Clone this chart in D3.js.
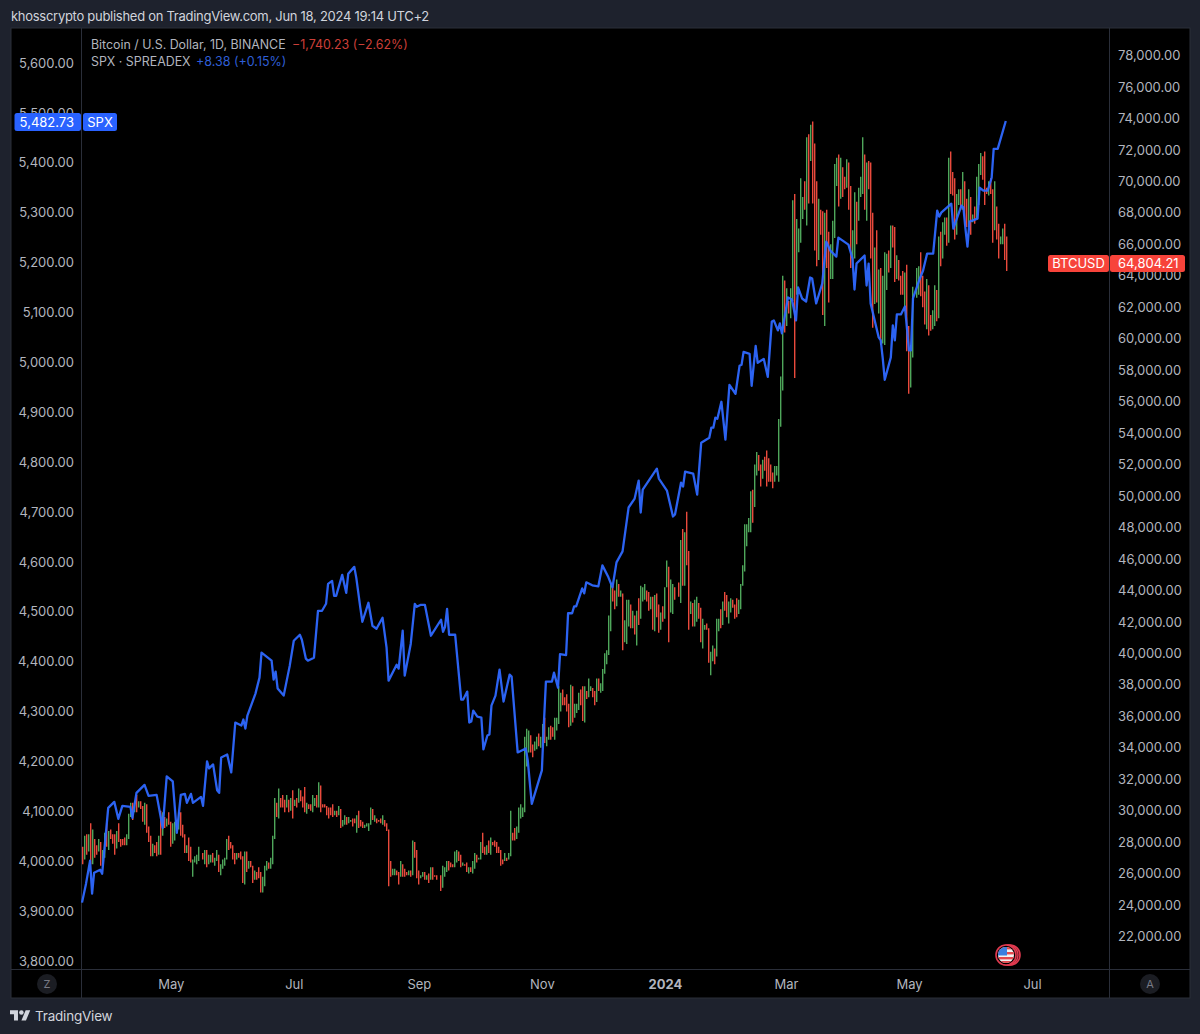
<!DOCTYPE html>
<html>
<head>
<meta charset="utf-8">
<script src="https://cdn.jsdelivr.net/npm/d3@7"></script>
<style>
  body { margin: 0; background: #1e222d; }
  svg { display: block; }
  text { font-family: Inter, Roboto, sans-serif; }
</style>
</head>
<body>
<svg id="chart" width="1200" height="1034"></svg>
<script>
// BTCUSD daily bars in thousands of dollars, one row per month, first bar is 18 Mar 2023
var btcStart = new Date(2023, 2, 18);
var btcHigh = [
  27.7,28.4,28.5,28.5,29.2,28.8,28.2,27.8,28.2,28.0,27.5,28.6,29.2,28.7,
  28.8,28.5,28.5,28.7,29.2,28.2,28.2,28.3,28.5,29.8,30.5,30.5,30.6,31.0,30.6,30.6,30.3,30.5,30.4,29.0,28.4,27.9,27.8,28.0,28.4,30.0,29.9,29.6,29.5,29.9,
  29.3,29.2,29.3,29.4,29.9,29.9,29.1,28.5,27.8,28.3,27.7,26.9,27.1,27.2,27.7,27.3,27.5,27.5,27.2,27.2,27.3,27.0,27.5,27.2,26.6,26.9,27.0,28.2,28.4,28.0,27.8,
  27.3,27.3,27.3,27.4,27.1,27.4,27.4,26.8,26.8,26.5,26.2,26.1,26.4,26.1,25.8,26.5,26.8,26.7,27.0,28.4,30.8,30.5,31.4,30.8,31.0,30.7,31.0,30.7,30.8,31.3,
  30.7,30.8,31.4,31.3,30.9,31.5,30.5,30.4,30.4,31.0,30.8,31.0,31.8,31.6,30.4,30.4,30.3,30.2,30.2,30.4,30.0,30.0,30.3,30.1,29.4,29.7,29.6,29.6,29.4,29.5,29.5,
  29.7,30.0,29.4,29.3,29.1,29.2,29.2,30.2,30.1,29.7,29.5,29.4,29.5,29.7,29.4,29.2,28.8,26.8,26.3,26.3,26.2,26.1,26.8,26.6,26.3,26.1,26.2,26.2,28.1,28.0,27.5,
  26.2,25.9,26.1,26.1,25.9,26.0,26.4,26.4,25.9,25.9,25.9,26.5,26.4,26.8,26.8,26.7,26.6,27.4,27.5,27.4,27.2,26.7,26.6,26.7,26.4,26.4,26.8,27.3,27.2,27.0,
  28.0,28.6,27.7,27.8,28.1,28.3,28.0,28.1,28.0,27.7,27.5,26.9,27.3,27.0,27.3,30.0,28.6,28.9,29.0,30.2,30.4,30.2,34.7,35.2,35.1,34.8,34.2,34.4,34.7,34.9,34.7,
  35.5,35.9,34.7,35.3,35.4,35.3,35.9,35.9,37.9,37.5,37.7,37.2,37.4,36.8,38.0,37.9,36.8,36.8,37.5,37.7,37.9,37.9,37.6,38.4,37.9,37.8,37.6,38.4,38.4,38.1,
  39.0,40.0,40.2,42.4,44.5,44.3,44.0,44.7,44.4,44.0,43.8,42.1,43.4,43.4,43.1,42.7,42.4,42.7,43.5,44.3,44.2,44.4,44.0,43.9,43.6,43.6,43.7,43.8,43.1,42.6,43.0,
  44.2,45.9,45.5,44.7,44.4,44.2,44.5,47.2,47.9,47.7,49.0,46.5,43.3,43.2,43.4,43.6,43.2,42.9,42.2,41.8,41.9,41.6,40.1,40.5,40.3,42.2,42.2,42.8,43.3,43.9,43.7,
  43.3,43.5,43.4,43.1,43.5,43.4,44.4,45.6,48.2,48.2,48.6,50.3,50.4,52.0,52.8,52.6,52.0,52.3,52.5,52.9,52.4,52.0,51.5,51.9,51.9,54.9,57.6,64.0,63.7,
  63.2,62.4,63.2,68.8,69.2,67.6,67.0,70.2,69.0,70.0,72.8,73.0,73.6,73.8,72.4,70.0,68.9,68.2,68.1,68.0,68.2,66.8,66.0,67.5,71.1,71.5,71.7,71.5,70.9,70.3,71.4,
  71.2,69.7,66.9,69.3,68.7,69.6,70.3,72.8,71.7,71.2,71.3,71.2,68.0,65.8,66.9,64.4,64.5,64.0,65.5,65.4,65.6,67.2,67.2,67.1,65.3,65.0,64.0,64.3,64.2,64.7,
  60.8,59.6,63.3,64.5,64.6,65.5,64.0,63.0,63.8,63.4,61.5,61.8,63.4,63.1,66.5,66.8,67.4,67.7,67.7,71.5,71.9,70.6,70.2,69.2,69.5,69.5,70.6,70.0,68.9,69.5,69.0,
  67.9,68.4,70.3,71.1,71.8,71.6,71.9,69.6,70.0,70.2,69.5,70.0,68.4,67.3,66.5,67.0,67.3,66.5
];
var btcLow = [
  26.6,26.9,27.2,27.4,26.6,26.6,27.0,27.2,27.4,26.5,26.6,27.0,27.7,27.5,
  28.2,27.9,27.2,27.6,28.0,27.7,27.8,27.8,27.8,28.2,29.6,29.4,29.9,29.9,30.2,30.1,29.3,29.1,28.6,28.0,27.1,27.1,27.3,27.1,27.2,27.2,28.4,28.9,29.0,29.1,
  27.7,27.9,28.1,28.7,28.8,28.4,28.3,27.3,27.3,26.8,26.7,25.8,26.7,26.6,26.8,26.9,26.6,26.4,26.6,26.7,26.7,26.5,26.8,26.1,25.9,26.3,26.5,26.9,27.5,27.6,26.9,
  26.6,26.9,27.0,26.9,25.4,25.3,26.1,26.3,26.4,25.4,25.6,25.6,25.7,24.8,24.8,25.2,26.2,26.3,26.3,26.6,28.2,29.6,29.5,30.2,30.2,29.9,30.2,29.9,30.0,29.5,
  30.3,30.2,30.5,30.6,30.2,29.9,29.8,30.1,30.0,29.9,30.3,30.2,30.2,29.9,30.2,30.2,29.7,29.5,29.7,29.6,29.7,29.6,29.7,28.9,29.0,29.1,29.1,29.2,29.3,29.0,29.2,
  28.6,28.9,29.0,28.9,28.9,29.0,28.7,29.1,29.4,29.3,29.2,29.3,29.2,29.1,29.0,28.7,25.2,25.8,25.9,25.9,25.9,25.3,25.8,25.8,25.8,25.9,25.9,25.8,25.9,27.0,25.7,
  25.3,25.7,25.8,25.6,25.6,25.4,25.6,25.6,25.8,25.6,24.9,25.1,25.8,26.1,26.2,26.4,26.4,26.4,26.7,26.8,26.4,26.5,26.5,26.1,26.0,26.1,26.0,26.3,26.7,26.9,
  26.9,27.3,27.2,27.2,27.3,27.2,27.8,27.7,27.3,27.3,26.5,26.6,26.8,26.8,26.9,27.1,28.1,28.1,28.2,28.6,29.5,29.6,29.9,32.8,33.7,33.7,33.4,33.8,33.9,34.1,34.0,
  34.1,34.3,34.1,34.5,34.5,34.7,34.5,35.1,35.5,36.3,36.7,36.7,36.3,35.3,35.4,35.6,35.9,36.2,36.4,36.7,35.7,35.6,37.1,37.2,37.6,37.2,36.7,36.9,37.6,37.5,
  37.6,38.7,39.3,39.9,41.4,43.3,42.8,43.0,43.6,43.6,40.2,40.7,40.6,41.7,41.6,41.6,41.2,40.5,41.8,42.2,43.3,43.4,43.3,42.7,42.8,41.5,41.4,42.3,41.3,41.5,42.0,
  42.2,44.2,40.7,42.6,42.5,43.4,43.6,43.2,44.3,44.3,45.6,41.5,42.5,41.7,41.7,42.0,42.2,40.7,40.3,41.5,41.5,39.4,38.6,39.5,39.3,39.8,41.4,41.6,41.8,42.7,42.3,
  41.9,42.6,42.9,42.2,42.3,42.5,42.8,44.3,45.2,46.8,47.7,47.7,48.3,49.3,51.3,51.6,50.6,51.1,51.6,50.6,50.9,50.9,50.5,50.9,51.3,50.9,54.4,56.7,60.4,
  60.8,61.6,61.3,62.4,57.5,62.8,65.5,66.1,67.6,68.2,67.2,68.6,71.3,68.6,65.6,64.6,65.0,66.6,61.5,60.8,64.5,62.3,63.8,63.8,66.4,69.7,68.4,68.9,69.0,69.5,69.6,
  68.2,64.5,64.5,65.1,66.0,67.5,69.0,69.2,68.2,67.5,69.5,65.1,60.7,62.2,62.3,61.6,59.6,59.7,59.6,63.1,64.2,64.5,65.8,63.6,63.8,63.7,62.8,62.8,61.8,59.2,
  56.5,56.9,58.8,62.6,62.8,62.7,62.0,60.9,60.6,60.2,60.5,60.6,60.8,61.1,61.3,64.6,65.1,66.6,65.9,66.1,69.2,69.1,66.3,66.6,68.5,68.2,68.2,67.2,67.1,67.1,66.6,
  67.4,67.3,67.6,68.5,70.4,70.1,68.5,69.2,69.1,69.2,66.1,66.9,66.3,65.1,66.0,66.0,65.0,64.3
];
// 1 when the bar closed above its open
var btcUp = [
  0,1,0,1,0,1,0,0,1,0,1,1,0,1,
  0,0,0,1,0,0,0,0,1,1,1,0,1,0,1,0,0,1,0,0,0,1,0,0,1,0,1,0,1,0,
  0,1,1,0,1,0,0,0,1,0,0,1,1,1,1,0,1,0,1,1,0,1,1,0,1,1,1,1,0,0,0,
  0,1,0,0,0,1,0,1,0,0,1,0,0,0,1,1,1,0,1,1,1,0,1,0,0,0,1,0,1,0,
  1,0,1,0,0,0,1,0,0,1,1,0,1,0,0,0,0,0,0,0,1,0,1,0,1,1,0,1,1,0,0,
  1,0,0,0,1,1,1,1,0,1,0,0,0,1,0,0,0,0,1,1,0,0,1,0,0,0,1,0,1,0,0,
  0,1,1,0,1,0,1,0,0,0,0,1,1,1,0,0,0,1,1,0,0,1,0,0,1,0,1,1,0,1,
  1,0,0,1,0,1,0,0,0,0,0,0,1,0,1,1,0,0,1,1,1,1,1,1,1,0,0,1,1,0,1,
  1,0,1,1,0,0,1,1,1,1,0,0,0,0,1,0,1,1,1,0,0,1,0,1,1,0,0,1,0,1,
  1,1,1,1,1,0,0,1,0,1,0,1,1,1,0,1,0,1,0,1,1,1,0,0,1,0,1,0,0,1,0,
  1,1,0,1,1,0,0,1,0,1,0,0,1,0,1,1,0,0,1,1,0,0,1,1,0,1,1,0,1,0,0,
  1,1,0,0,0,1,1,1,1,1,1,1,0,1,1,0,0,1,0,0,0,0,0,1,1,1,1,1,0,
  1,0,1,1,0,1,1,1,1,0,1,0,1,0,0,0,1,0,0,1,0,0,1,1,1,1,0,1,0,0,1,
  0,0,1,1,0,1,1,1,0,1,0,0,0,1,0,1,0,1,1,1,0,1,0,0,1,0,0,0,1,0,
  0,1,1,1,1,0,0,0,1,0,0,1,1,0,1,0,1,1,0,1,0,0,0,1,1,0,1,0,0,1,0,
  1,0,1,1,1,0,0,0,1,0,0,1,0,0,1,1,0,0
];

// SPX closes, spxDay counts days from btcStart
var spxDay = [
  0,2,4,5,6,9,10,13,16,18,20,24,25,27,31,33,37,40,42,45,47,49,51,52,54,55,59,60,62,63,65,67,68,69,72,74,
  76,79,80,81,82,86,88,89,94,95,96,97,100,102,103,105,108,109,111,112,115,117,119,121,122,124,125,126,129,131,132,135,136,138,139,142,144,146,149,151,152,156,157,
  159,160,163,165,166,168,170,173,178,179,180,181,182,185,188,189,191,192,193,194,196,198,199,201,202,203,205,207,209,212,213,216,220,221,223,228,229,230,233,234,236,237,240,241,243,244,245,248,249,250,253,256,258,261,263,265,268,271,274,276,277,278,285,286,290,293,294,297,298,299,303,305,
  307,311,312,313,314,315,317,319,321,324,326,327,328,331,332,334,335,338,340,342,343,345,346,347,350,352,354,355,357,359,361,362,364,367,369,371,374,375,380,382,383,384,388,389,390,391,395,396,397,398,401,402,403,404,406,408,410,411,412,415,417,419,422,424,425,426,431,432,436,437,438,439,440,444,445,447,449,451,452,454,458
];
var spxClose = [
  3916,3954,4000,3934,3976,3982,3974,4106,4118,4084,4110,4108,4086,4136,4152,4130,4132,4066,4169,4159,4056,4132,4134,4116,4134,4116,4128,4110,4199,4185,4193,4141,4136,4207,4213,4177,
  4277,4271,4283,4265,4291,4335,4367,4417,4401,4363,4379,4345,4331,4371,4391,4441,4453,4443,4405,4401,4407,4501,4501,4515,4555,4561,4531,4531,4573,4537,4575,4589,4567,4507,4479,4517,4471,4465,4487,4427,4361,4393,4385,
  4461,4371,4435,4515,4509,4513,4513,4451,4483,4459,4469,4505,4453,4453,4323,4323,4339,4277,4279,4301,4289,4287,4223,4251,4253,4311,4331,4383,4319,4373,4369,4217,4225,4201,4114,4181,4275,4359,4359,4377,4347,4414,4412,4496,4496,4510,4510,4546,4536,4558,4552,4550,4592,4568,4548,4598,4620,4708,4726,4762,4698,4744,4786,4766,4742,4690,4694,4758,4750,4780,4776,4734,
  4838,4848,4868,4868,4888,4886,4920,4844,4954,4936,4992,4994,5020,5016,4952,5032,4998,5006,4970,5081,5083,5063,5077,5057,5129,5125,5083,5149,5127,5121,5169,5167,5117,5157,5241,5223,5211,5249,5235,5207,5145,5197,5213,5153,5197,5117,5049,5043,5007,4964,5009,5073,5043,5095,5095,5111,5023,5023,5127,5163,5183,5217,5217,5303,5291,5299,5317,5267,5313,5309,5267,5231,5281,5287,5349,5343,5343,5369,5427,5427,5482.73
];

var spxTicks = [3800,3900,4000,4100,4200,4300,4400,4500,4600,4700,4800,4900,5000,5100,5200,5300,5400,5500,5600];
var btcTicks = [22000,24000,26000,28000,30000,32000,34000,36000,38000,40000,42000,44000,46000,48000,50000,52000,54000,56000,58000,60000,62000,64000,66000,68000,70000,72000,74000,76000,78000];
var timeTicks = [new Date(2023,4,1), new Date(2023,6,1), new Date(2023,8,1), new Date(2023,10,1), new Date(2024,0,1), new Date(2024,2,1), new Date(2024,4,1), new Date(2024,6,1)];
var timeLabels = ["May","Jul","Sep","Nov","2024","Mar","May","Jul"];

var sep = "#2a2e39", axisText = "#b2b5be";
var upColor = "#4ea65a", downColor = "#ea4a3c", spxColor = "#2e68ff";

var svg = d3.select("#chart");
var x = d3.scaleTime().domain([btcStart, new Date(2024,6,1)]).range([82, 1032]);
var ySpx = d3.scaleLinear().domain([3800,5600]).range([960.5,62.5]);
var yBtc = d3.scaleLinear().domain([22000,78000]).range([936.5,55.5]);

// panel and separators
svg.append("rect").attr("x",11).attr("y",28).attr("width",1179).attr("height",970).attr("fill","#000")
  .attr("stroke",sep).attr("stroke-width",1);
svg.append("line").attr("x1",81.5).attr("x2",81.5).attr("y1",28).attr("y2",998).attr("stroke",sep);
svg.append("line").attr("x1",1109.5).attr("x2",1109.5).attr("y1",28).attr("y2",998).attr("stroke",sep);
svg.append("line").attr("x1",11).attr("x2",1190).attr("y1",969.5).attr("y2",969.5).attr("stroke",sep);

svg.append("text").attr("x",11).attr("y",21).attr("fill","#d1d4dc").attr("font-size",13)
  .attr("letter-spacing",-0.28)
  .text("khosscrypto published on TradingView.com, Jun 18, 2024 19:14 UTC+2");

// axes
function styleAxis(g) {
  g.select(".domain").remove();
  g.selectAll(".tick line").remove();
  g.selectAll("text").attr("fill",axisText).attr("font-size",13).style("font-family","Inter, Roboto, sans-serif");
}
svg.append("g").attr("transform","translate(81,0.5)")
  .call(d3.axisLeft(ySpx).tickValues(spxTicks).tickSize(0).tickPadding(7).tickFormat(d3.format(",.2f")))
  .call(styleAxis);
svg.append("g").attr("transform","translate(1109,0)")
  .call(d3.axisRight(yBtc).tickValues(btcTicks).tickSize(0).tickPadding(9).tickFormat(d3.format(",.2f")))
  .call(styleAxis);
svg.append("g").attr("transform","translate(0,971)")
  .call(d3.axisBottom(x).tickValues(timeTicks).tickSize(0).tickPadding(9).tickFormat(function(d,i){ return timeLabels[i]; }))
  .call(styleAxis)
  .selectAll("text").attr("font-weight",function(d,i){ return timeLabels[i]=="2024" ? 700 : 400; });

// bars, kept on every second pixel column so red and green stay apart
function barX(d,i) {
  return 2 * Math.round(x(d3.timeDay.offset(btcStart,i)) / 2) + 0.7;
}
svg.append("g").selectAll("line").data(btcHigh).join("line")
  .attr("x1",barX)
  .attr("x2",barX)
  .attr("y1",function(d){ return yBtc(d*1000); })
  .attr("y2",function(d,i){ return yBtc(btcLow[i]*1000); })
  .attr("stroke",function(d,i){ return btcUp[i] ? upColor : downColor; })
  .attr("stroke-width",1.4);

// SPX line
var line = d3.line()
  .x(function(d,i){ return x(d3.timeDay.offset(btcStart,spxDay[i])); })
  .y(function(d){ return ySpx(d); });
svg.append("path").datum(spxClose).attr("d",line).attr("fill","none")
  .attr("stroke",spxColor).attr("stroke-width",2.3).attr("stroke-linejoin","round").attr("opacity",0.95);

// legend
svg.append("text").attr("x",91).attr("y",48.5).attr("font-size",12.4).attr("fill",axisText).text("Bitcoin / U.S. Dollar, 1D, BINANCE");
svg.append("text").attr("x",292).attr("y",48.5).attr("font-size",12.4).attr("fill","#cc3f38").text("\u22121,740.23 (\u22122.62%)");
svg.append("text").attr("x",91).attr("y",66).attr("font-size",12.4).attr("fill",axisText).text("SPX \u00b7 SPREADEX");
svg.append("text").attr("x",196).attr("y",66).attr("font-size",12.5).attr("fill","#2f5fd6").text("+8.38 (+0.15%)");

// price tags
function tag(x0,x1,y0,y1,color,label,anchor,tx) {
  svg.append("rect").attr("x",x0).attr("y",y0).attr("width",x1-x0).attr("height",y1-y0).attr("rx",2.5).attr("fill",color);
  svg.append("text").attr("x",tx).attr("y",(y0+y1)/2+4.5).attr("font-size",13).attr("fill","#fff").attr("text-anchor",anchor).text(label);
}
tag(14.5,81,113,131,"#2962ff","5,482.73","end",74);
tag(83,117,113,131,"#2962ff","SPX","middle",100);
tag(1048,1109,255,272,"#f7433a","BTCUSD","middle",1078.5);
tag(1110,1185,255,272,"#f7433a","64,804.21","start",1118);

// Z and A buttons
[[47,"Z"],[1150,"A"]].forEach(function(b) {
  svg.append("circle").attr("cx",b[0]).attr("cy",984).attr("r",10).attr("fill","#1b1d23");
  svg.append("text").attr("x",b[0]).attr("y",988).attr("text-anchor","middle").attr("font-size",11).attr("fill","#787b86").text(b[1]);
});

// earnings flag
var flag = svg.append("g").attr("transform","translate(1006,955)");
[4,2,0].forEach(function(dx) {
  flag.append("circle").attr("cx",dx).attr("r",10).attr("fill","#000").attr("stroke","#e03a4f").attr("stroke-width",1.6);
});
flag.append("clipPath").attr("id","flagClip").append("circle").attr("r",8);
var stripes = flag.append("g").attr("clip-path","url(#flagClip)");
stripes.append("rect").attr("x",-8).attr("y",-8).attr("width",16).attr("height",16).attr("fill","#f2f2f2");
[-8,-3,2,6].forEach(function(sy) {
  stripes.append("rect").attr("x",-8).attr("y",sy).attr("width",16).attr("height",2.4).attr("fill","#e5484d");
});
stripes.append("rect").attr("x",-8).attr("y",-8).attr("width",9).attr("height",8.5).attr("fill","#3b7fe0");

// TradingView logo
svg.append("g").attr("transform","translate(10,1008) scale(0.57)").attr("fill","#d1d4dc")
  .call(function(g) {
    g.append("path").attr("d","M14 22H7V11H0V4h14v18zM28 22h-8l7.5-18h8L28 22z");
    g.append("circle").attr("cx",20).attr("cy",8).attr("r",4);
  });
svg.append("text").attr("x",35).attr("y",1021).attr("font-size",13.5).attr("letter-spacing",-0.2).attr("fill","#d1d4dc").text("TradingView");
</script>
</body>
</html>
